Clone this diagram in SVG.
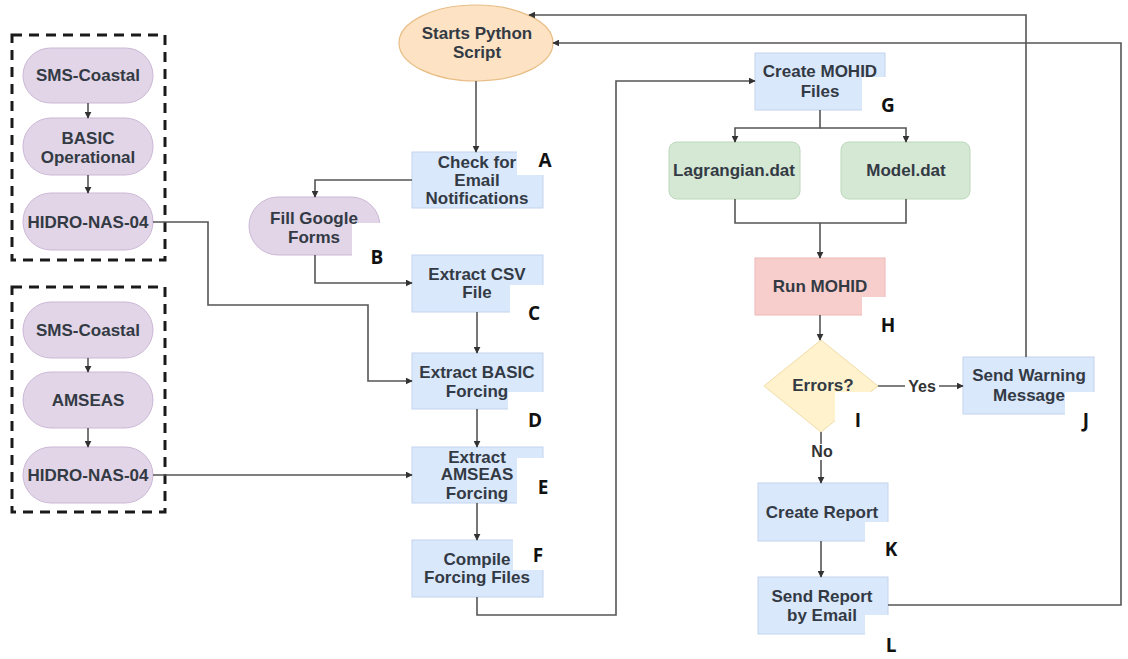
<svg xmlns="http://www.w3.org/2000/svg" width="1128" height="659" viewBox="0 0 1128 659">
<defs>
<marker id="arr" viewBox="0 0 10 10" refX="9" refY="5" markerWidth="7" markerHeight="7" markerUnits="userSpaceOnUse" orient="auto">
<path d="M0,0 L10,5 L0,10 z" fill="#333"/>
</marker>
<style>
.bg{fill:#ffffff}
.blue{fill:#dae8fc;stroke:#c3d4ee;stroke-width:1}
.purple{fill:#e1d5e7;stroke:#cbb8d6;stroke-width:1}
.green{fill:#d5e8d4;stroke:#bcd8bb;stroke-width:1}
.red{fill:#f8cecc;stroke:#ecb8b5;stroke-width:1}
.yellow{fill:#fff2cc;stroke:#f0dca8;stroke-width:1}
.orange{fill:#fde3c4;stroke:#e8bd85;stroke-width:1.2}
.dash{fill:none;stroke:#1a1a1a;stroke-width:3;stroke-dasharray:10 7}
.notch{fill:#ffffff}
.t{font-family:"Liberation Sans",Arial,sans-serif;font-weight:bold;font-size:17px;fill:#333a44;text-anchor:middle}
.lbl{font-family:"Open Sans","Liberation Sans",sans-serif;font-weight:bold;font-size:19px;fill:#111;text-anchor:middle}
.el{font-family:"Liberation Sans",Arial,sans-serif;font-weight:bold;font-size:16px;fill:#333;text-anchor:middle}
.c{fill:none;stroke:#555;stroke-width:1.6}
</style>
</defs>
<rect class="bg" x="0" y="0" width="1128" height="659"/>

<g id="panel1">
<rect class="dash" x="12" y="35" width="153" height="225"/>
</g>
<g id="sms1"><rect class="purple" x="23" y="48" width="130" height="55" rx="27.5"/><text class="t" x="88" y="81">SMS-Coastal</text></g>
<g id="basic"><rect class="purple" x="23" y="118" width="130" height="57" rx="28"/><text class="t" x="88" y="144">BASIC</text><text class="t" x="88" y="163">Operational</text></g>
<g id="hidro1"><rect class="purple" x="23" y="193" width="130" height="57" rx="28"/><text class="t" x="88" y="228">HIDRO-NAS-04</text></g>

<g id="panel2">
<rect class="dash" x="12" y="287" width="153" height="225"/>
</g>
<g id="sms2"><rect class="purple" x="23" y="302" width="130" height="56" rx="28"/><text class="t" x="88" y="336">SMS-Coastal</text></g>
<g id="amseas"><rect class="purple" x="23" y="372" width="130" height="56" rx="28"/><text class="t" x="88" y="406">AMSEAS</text></g>
<g id="hidro2"><rect class="purple" x="23" y="447" width="130" height="56" rx="28"/><text class="t" x="88" y="481">HIDRO-NAS-04</text></g>

<g id="start"><ellipse class="orange" cx="476" cy="43" rx="77" ry="38"/><text class="t" x="477" y="39">Starts Python</text><text class="t" x="477" y="58">Script</text></g>

<g id="nodeA"><rect class="blue" x="412" y="152" width="131" height="56"/><rect class="notch" x="517" y="140" width="45" height="35"/><text class="t" x="477" y="168">Check for</text><text class="t" x="477" y="186">Email</text><text class="t" x="477" y="204">Notifications</text><text class="lbl" x="545" y="167">A</text></g>

<g id="nodeB"><rect class="purple" x="249" y="197" width="131" height="58" rx="29"/><rect class="notch" x="352" y="223" width="40" height="50"/><text class="t" x="314" y="224">Fill Google</text><text class="t" x="314" y="243">Forms</text><text class="lbl" x="377" y="264">B</text></g>

<g id="nodeC"><rect class="blue" x="412" y="255" width="131" height="57"/><rect class="notch" x="510" y="285" width="45" height="40"/><text class="t" x="477" y="280">Extract CSV</text><text class="t" x="477" y="298">File</text><text class="lbl" x="534" y="320">C</text></g>

<g id="nodeD"><rect class="blue" x="412" y="353" width="131" height="56"/><rect class="notch" x="508" y="392" width="45" height="40"/><text class="t" x="477" y="378">Extract BASIC</text><text class="t" x="477" y="397">Forcing</text><text class="lbl" x="535" y="427">D</text></g>

<g id="nodeE"><rect class="blue" x="412" y="447" width="131" height="56"/><rect class="notch" x="517" y="458" width="45" height="50"/><text class="t" x="477" y="463">Extract</text><text class="t" x="477" y="480">AMSEAS</text><text class="t" x="477" y="499">Forcing</text><text class="lbl" x="543" y="494">E</text></g>

<g id="nodeF"><rect class="blue" x="412" y="540" width="131" height="57"/><rect class="notch" x="513" y="530" width="45" height="40"/><text class="t" x="477" y="565">Compile</text><text class="t" x="477" y="583">Forcing Files</text><text class="lbl" x="538" y="562">F</text></g>

<g id="nodeG"><rect class="blue" x="755" y="53" width="130" height="57"/><rect class="notch" x="862" y="77" width="45" height="45"/><text class="t" x="820" y="77">Create MOHID</text><text class="t" x="820" y="97">Files</text><text class="lbl" x="888" y="112">G</text></g>

<g id="lagrangian"><rect class="green" x="669" y="142" width="131" height="57" rx="8"/><text class="t" x="734" y="176">Lagrangian.dat</text></g>
<g id="model"><rect class="green" x="841" y="142" width="129" height="57" rx="8"/><text class="t" x="906" y="176">Model.dat</text></g>

<g id="nodeH"><rect class="red" x="755" y="258" width="130" height="57"/><rect class="notch" x="862" y="297" width="45" height="40"/><text class="t" x="820" y="292">Run MOHID</text><text class="lbl" x="888" y="332">H</text></g>

<g id="nodeI"><polygon class="yellow" points="821,340 878,386 821,432 764,386"/><rect class="notch" x="835" y="392" width="45" height="45"/><text class="t" x="823" y="391">Errors?</text><text class="lbl" x="858" y="427">I</text></g>

<g id="nodeJ"><rect class="blue" x="963" y="357" width="131" height="57"/><rect class="notch" x="1065" y="392" width="45" height="40"/><text class="t" x="1029" y="381">Send Warning</text><text class="t" x="1029" y="401">Message</text><text class="lbl" x="1086" y="427">J</text></g>

<g id="nodeK"><rect class="blue" x="758" y="483" width="130" height="58"/><rect class="notch" x="865" y="522" width="45" height="40"/><text class="t" x="822" y="518">Create Report</text><text class="lbl" x="891" y="556">K</text></g>

<g id="nodeL"><rect class="blue" x="758" y="577" width="130" height="57"/><rect class="notch" x="865" y="615" width="45" height="44"/><text class="t" x="822" y="602">Send Report</text><text class="t" x="822" y="621">by Email</text><text class="lbl" x="891" y="652">L</text></g>

<g id="connectors">
<path class="c" d="M88,103 V118" marker-end="url(#arr)"/>
<path class="c" d="M88,175 V193" marker-end="url(#arr)"/>
<path class="c" d="M88,358 V372" marker-end="url(#arr)"/>
<path class="c" d="M88,428 V447" marker-end="url(#arr)"/>
<path class="c" d="M476,81 V152" marker-end="url(#arr)"/>
<path class="c" d="M412,180 H315 V197" marker-end="url(#arr)"/>
<path class="c" d="M315,255 V283 H412" marker-end="url(#arr)"/>
<path class="c" d="M477,312 V353" marker-end="url(#arr)"/>
<path class="c" d="M153,222 H208 V305 H368 V381 H412" marker-end="url(#arr)"/>
<path class="c" d="M477,409 V447" marker-end="url(#arr)"/>
<path class="c" d="M153,475 H412" marker-end="url(#arr)"/>
<path class="c" d="M477,503 V540" marker-end="url(#arr)"/>
<path class="c" d="M477,597 V615 H616 V81 H755" marker-end="url(#arr)"/>
<path class="c" d="M820,110 V128 H735 V142" marker-end="url(#arr)"/>
<path class="c" d="M820,128 H906 V142" marker-end="url(#arr)"/>
<path class="c" d="M735,199 V223 H906 V199"/>
<path class="c" d="M820,223 V258" marker-end="url(#arr)"/>
<path class="c" d="M820,315 V340" marker-end="url(#arr)"/>
<path class="c" d="M878,386 H963" marker-end="url(#arr)"/>
<rect class="bg" x="905" y="378" width="34" height="16"/>
<text class="el" x="922" y="392">Yes</text>
<path class="c" d="M821,432 V483" marker-end="url(#arr)"/>
<rect class="bg" x="809" y="444" width="26" height="16"/>
<text class="el" x="822" y="457">No</text>
<path class="c" d="M821,541 V577" marker-end="url(#arr)"/>
<path class="c" d="M1026,357 V15 H529" marker-end="url(#arr)"/>
<path class="c" d="M888,605 H1121 V43 H553" marker-end="url(#arr)"/>
</g>
</svg>
